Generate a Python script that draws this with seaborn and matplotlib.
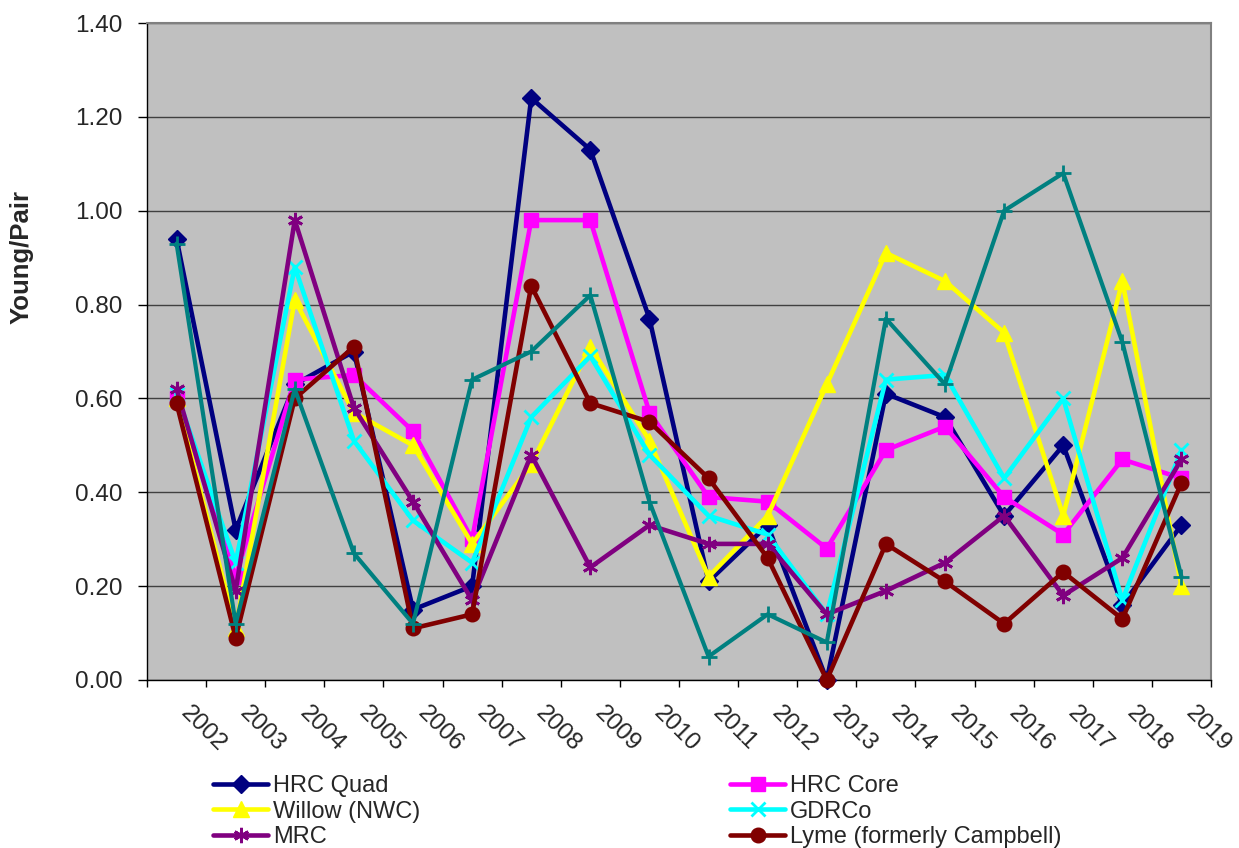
import matplotlib
matplotlib.use("Agg")
import matplotlib.pyplot as plt
import matplotlib.transforms as mtransforms
import seaborn as sns
import numpy as np
from matplotlib.ticker import FixedLocator, FormatStrFormatter

years = ["2002", "2003", "2004", "2005", "2006", "2007", "2008", "2009", "2010",
         "2011", "2012", "2013", "2014", "2015", "2016", "2017", "2018", "2019"]

hrc_quad = [0.94, 0.32, 0.63, 0.70, 0.15, 0.20, 1.24, 1.13, 0.77, 0.21, 0.33, 0.00,
            0.61, 0.56, 0.35, 0.50, 0.16, 0.33]
hrc_core = [0.60, 0.22, 0.64, 0.65, 0.53, 0.30, 0.98, 0.98, 0.57, 0.39, 0.38, 0.28,
            0.49, 0.54, 0.39, 0.31, 0.47, 0.43]
willow = [0.60, 0.11, 0.81, 0.57, 0.50, 0.29, 0.46, 0.71, 0.51, 0.22, 0.35, 0.63,
          0.91, 0.85, 0.74, 0.35, 0.85, 0.20]
gdrco = [0.61, 0.25, 0.88, 0.51, 0.34, 0.25, 0.56, 0.69, 0.48, 0.35, 0.31, 0.14,
         0.64, 0.65, 0.43, 0.60, 0.17, 0.49]
mrc = [0.62, 0.19, 0.98, 0.58, 0.38, 0.17, 0.48, 0.24, 0.33, 0.29, 0.29, 0.14,
       0.19, 0.25, 0.35, 0.18, 0.26, 0.47]
lyme = [0.59, 0.09, 0.60, 0.71, 0.11, 0.14, 0.84, 0.59, 0.55, 0.43, 0.26, 0.00,
        0.29, 0.21, 0.12, 0.23, 0.13, 0.42]
series7 = [0.93, 0.12, 0.62, 0.27, 0.12, 0.64, 0.70, 0.82, 0.38, 0.05, 0.14, 0.08,
           0.77, 0.63, 1.00, 1.08, 0.72, 0.22]

y_ticks = [0.0, 0.2, 0.4, 0.6, 0.8, 1.0, 1.2, 1.4]

sns.set_style("white")
plt.rcParams['font.family'] = ['Liberation Sans', 'DejaVu Sans']

fig = plt.figure(figsize=(12.39, 8.48), dpi=100)
ax = fig.add_axes([147/1239, 1 - 680/848, (1211-147)/1239, (680-23)/848])
ax.set_facecolor("#C0C0C0")

xs = np.arange(len(years))

specs = [
    ("HRC Quad", hrc_quad, "#000080", "D", 9, 3.3),
    ("HRC Core", hrc_core, "#FF00FF", "s", 10.5, 3.3),
    ("Willow (NWC)", willow, "#FFFF00", "^", 11.5, 3.3),
    ("GDRCo", gdrco, "#00FFFF", "x", 9.5, 3.3),
    ("MRC", mrc, "#800080", (6, 2, 0), 11, 3.3),
    ("Lyme (formerly Campbell)", lyme, "#800000", "o", 10.5, 3.3),
    ("_series7", series7, "#008080", "+", 11, 3.0),
]

for name, vals, col, mk, ms, lw in specs:
    sns.lineplot(x=xs, y=vals, ax=ax, color=col, marker=mk, markersize=ms,
                 linewidth=lw, markeredgecolor=col, markerfacecolor=col,
                 markeredgewidth=2 if mk in ("x", "+", (6, 2, 0)) else 1,
                 label=name, zorder=3, clip_on=False)

ax.set_xlim(-0.5, len(years) - 0.5)
ax.set_ylim(0, 1.4)
ax.set_yticks(y_ticks)
ax.yaxis.set_major_formatter(FormatStrFormatter("%.2f"))
ax.grid(axis="y", color="#404040", linewidth=1.0, zorder=1)
ax.grid(axis="x", visible=False)
ax.set_axisbelow(True)

ax.set_xticks(xs)
ax.set_xticklabels(years, rotation=-45, ha="left", va="top",
                   rotation_mode="default")
offset = mtransforms.ScaledTranslation(-4/100, 0, fig.dpi_scale_trans)
for lab in ax.get_xticklabels():
    lab.set_transform(lab.get_transform() + offset)
ax.xaxis.set_minor_locator(FixedLocator(np.arange(-0.5, len(years), 1.0)))
ax.tick_params(axis="x", which="major", length=0, pad=16, labelsize=17.5)
ax.tick_params(axis="x", which="minor", length=5, width=1, direction="out",
               color="black", bottom=True)
ax.tick_params(axis="y", which="major", length=6.5, width=1, direction="out",
               color="black", left=True, labelsize=17.5, pad=11)

for s in ["top", "right"]:
    ax.spines[s].set_color("#808080")
    ax.spines[s].set_linewidth(1.5)
for s in ["left", "bottom"]:
    ax.spines[s].set_color("black")
    ax.spines[s].set_linewidth(1.0)

ax.set_xlabel("")
ax.set_ylabel("")
fig.text(22/1239, 1 - 257/848, "Young/Pair", rotation=90, ha="center",
         va="center", fontsize=18.5, fontweight="bold")

h, l = ax.get_legend_handles_labels()
lookup = dict(zip(l, h))
order = ["HRC Quad", "Willow (NWC)", "MRC", "HRC Core", "GDRCo",
         "Lyme (formerly Campbell)"]
leg = ax.legend([lookup[o] for o in order], order, ncol=2, numpoints=1,
                fontsize=17, frameon=False, handlelength=2.35,
                handletextpad=0.2, columnspacing=13.1, labelspacing=0.15,
                loc="upper left", bbox_to_anchor=(213/1239, 1 - 775/848),
                bbox_transform=fig.transFigure, borderpad=0, borderaxespad=0)

fig.savefig("out.png", dpi=100)
